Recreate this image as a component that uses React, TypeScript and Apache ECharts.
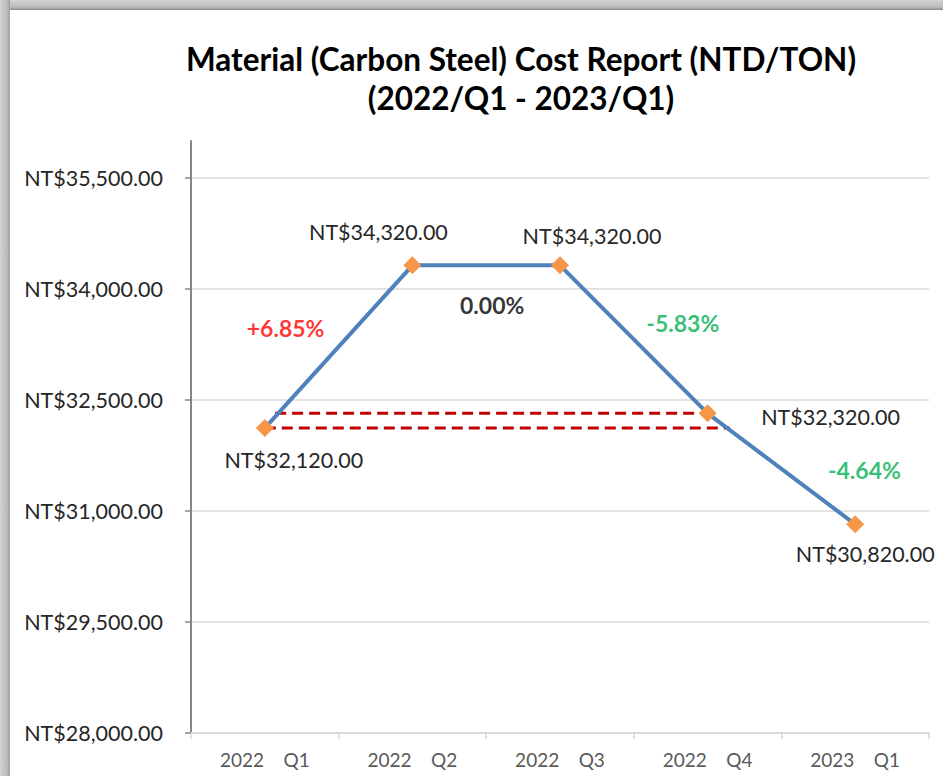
import React, { useEffect, useRef } from "react";
import * as echarts from "echarts";

const titleLines = ["Material (Carbon Steel) Cost Report (NTD/TON)", "(2022/Q1 - 2023/Q1)"];
const categories = ["2022    Q1", "2022    Q2", "2022    Q3", "2022    Q4", "2023    Q1"];
const costValues = [32120, 34320, 34320, 32320, 30820];
const changeLabels = ["+6.85%", "0.00%", "-5.83%", "-4.64%"];
const changeColors = ["#FF0000", "#000000", "#00B050", "#00B050"];
const yMin = 28000;
const yMax = 36000;
const yInterval = 1500;
const referenceLevels = [32320, 32120];
const referenceSpans = [
  [0.07, 3.0],
  [0.0, 3.15],
];

// label styling offsets (pixels)
const valueLabelOffsets = [
  [29, 32],
  [-34, -33],
  [32, -29],
  [123, 4],
  [10, 30],
];
const changeLabelOffsets = [
  [-53, -19],
  [6, 40],
  [49, -16],
  [83, 1],
];

const FONT = "Lato, 'Open Sans', sans-serif";

function fmt(v: number) {
  return "NT$" + v.toLocaleString("en-US", { minimumFractionDigits: 2, maximumFractionDigits: 2 });
}

export default function App() {
  const ref = useRef<HTMLDivElement>(null);
  useEffect(() => {
    if (!ref.current) return;
    const chart = echarts.init(ref.current, undefined, { renderer: "svg" });

    const lineData = costValues.map((v, i) => ({
      value: v,
      label: {
        show: true,
        position: "inside",
        offset: valueLabelOffsets[i],
        formatter: fmt(v),
        color: "#262626",
        fontSize: 21.5,
        fontFamily: FONT,
      },
    }));

    const changeData = changeLabels.map((t, i) => ({
      value: [i + 0.5, (costValues[i] + costValues[i + 1]) / 2],
      label: {
        show: true,
        position: "inside",
        offset: changeLabelOffsets[i],
        formatter: t,
        color: changeColors[i],
        fontSize: 23,
        fontWeight: "bold",
        fontFamily: FONT,
      },
    }));

    const refSeries = referenceLevels.map((lvl, k) => ({
      type: "line",
      xAxisIndex: 1,
      yAxisIndex: 0,
      symbol: "none",
      silent: true,
      z: 1,
      data: referenceSpans[k].map((x) => [x, lvl]),
      lineStyle: { color: "#C00000", width: 3, type: [11, 6] },
    }));

    chart.setOption({
      animation: false,
      backgroundColor: "#FFFFFF",
      grid: { left: 191, right: 14, top: 141, bottom: 43, containLabel: false },
      xAxis: [
        {
          type: "category",
          data: categories,
          boundaryGap: true,
          axisLine: { show: true, onZero: false, lineStyle: { color: "#D9D9D9", width: 2 } },
          axisTick: { show: true, length: 6, lineStyle: { color: "#D9D9D9", width: 1.5 } },
          axisLabel: { color: "#595959", fontSize: 19, fontFamily: FONT, margin: 17 },
          splitLine: { show: false },
        },
        {
          type: "value",
          min: -0.5,
          max: 4.5,
          show: false,
          axisLine: { show: false, onZero: false },
          splitLine: { show: false },
        },
      ],
      yAxis: {
        type: "value",
        min: yMin,
        max: yMax,
        interval: yInterval,
        axisLine: { show: true, onZero: false, lineStyle: { color: "#868686", width: 2 } },
        axisTick: { show: true, length: 6, lineStyle: { color: "#868686", width: 1.5 } },
        axisLabel: {
          color: "#262626",
          fontSize: 21.5,
          fontFamily: FONT,
          margin: 28,
          showMaxLabel: false,
          formatter: (v: number) => fmt(v),
        },
        splitLine: { show: true, showMaxLine: false, lineStyle: { color: "#D9D9D9", width: 1.5 } },
      },
      graphic: [
        {
          type: "rect",
          z: -1,
          shape: { x: 0, y: 0, width: 943, height: 10 },
          style: {
            fill: new echarts.graphic.LinearGradient(0, 0, 0, 1, [
              { offset: 0, color: "#D4D2D0" },
              { offset: 0.7, color: "#BDBBB9" },
              { offset: 1, color: "#8E8C8A" },
            ]),
          },
        },
        {
          type: "rect",
          z: -1,
          shape: { x: 0, y: 0, width: 10, height: 776 },
          style: {
            fill: new echarts.graphic.LinearGradient(0, 0, 1, 0, [
              { offset: 0, color: "#D4D2D0" },
              { offset: 0.7, color: "#BDBBB9" },
              { offset: 1, color: "#A09E9C" },
            ]),
          },
        },
        {
          type: "text",
          x: 521,
          y: 59,
          style: {
            text: titleLines[0],
            textAlign: "center",
            textVerticalAlign: "middle",
            fontSize: 31.5,
            fontWeight: "bold",
            fontFamily: FONT,
            fill: "#000000",
          },
        },
        {
          type: "text",
          x: 521,
          y: 98,
          style: {
            text: titleLines[1],
            textAlign: "center",
            textVerticalAlign: "middle",
            fontSize: 31.5,
            fontWeight: "bold",
            fontFamily: FONT,
            fill: "#000000",
          },
        },
      ],
      series: [
        ...refSeries,
        {
          type: "line",
          name: "Cost",
          data: lineData,
          z: 3,
          symbol: "diamond",
          symbolSize: 18,
          itemStyle: { color: "#F79646" },
          lineStyle: { color: "#4F81BD", width: 4 },
        },
        {
          type: "scatter",
          xAxisIndex: 1,
          yAxisIndex: 0,
          symbolSize: 0,
          silent: true,
          data: changeData,
        },
      ],
    });
    return () => chart.dispose();
  }, []);
  return <div ref={ref} style={{ position: "fixed", left: 0, top: 0, width: 943, height: 776 }} />;
}
